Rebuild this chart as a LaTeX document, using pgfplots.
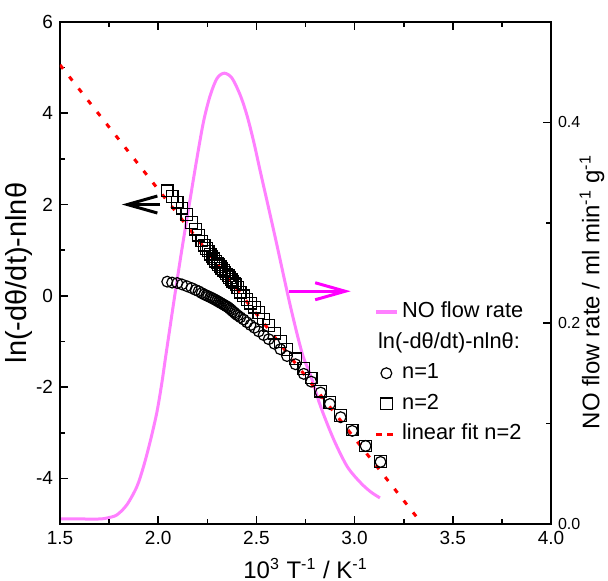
\documentclass[border=0pt]{standalone}
\usepackage{fontspec}
\setmainfont{Liberation Sans}
\usepackage{pgfplots}
\pgfplotsset{compat=1.18}
\usetikzlibrary{arrows.meta}
\definecolor{flowpink}{RGB}{255,128,255}
\definecolor{arrowmag}{RGB}{255,0,255}

\pgfplotsset{
  common/.style={
    scale only axis, width=245.5pt, height=251pt,
    xmin=1.5, xmax=4.0,
    tick align=inside,
    major tick length=4pt, minor tick length=2.5pt,
    axis line style={line width=0.8pt},
    every tick/.style={line width=0.8pt, black},
    /pgf/number format/assume math mode=true,
  },
}

\begin{document}
\begin{tikzpicture}
\useasboundingbox (-30pt,-28.5pt) rectangle (274pt,262pt);

% right axis: NO flow rate
\begin{axis}[
  common,
  ymin=0, ymax=0.5,
  axis x line=none, axis y line*=right,
  ytick={0,0.2,0.4}, minor ytick={0.1,0.3},
  yticklabel style={font=\fontsize{8}{9}\selectfont,
    /pgf/number format/fixed, /pgf/number format/fixed zerofill,
    /pgf/number format/precision=1},
  ylabel={NO flow rate / ml min\textsuperscript{-1} g\textsuperscript{-1}},
  ylabel style={font=\fontsize{12}{14}\selectfont,
    at={(axis description cs:1.0835,0.462)}, anchor=center},
]
\addplot[flowpink, line width=1.5pt, smooth] coordinates {
  (1.500,0.005) (1.600,0.005) (1.700,0.005) (1.740,0.006) (1.789,0.009)
  (1.840,0.019) (1.891,0.037) (1.925,0.057) (1.959,0.082) (1.993,0.111)
  (2.019,0.141) (2.036,0.164) (2.080,0.222) (2.121,0.274) (2.163,0.324)
  (2.197,0.364) (2.231,0.401) (2.265,0.427) (2.300,0.444) (2.337,0.449)
  (2.376,0.444) (2.418,0.427) (2.452,0.407) (2.486,0.381) (2.520,0.351)
  (2.563,0.314) (2.602,0.280) (2.673,0.217) (2.733,0.170) (2.776,0.148)
  (2.827,0.117) (2.894,0.084) (2.963,0.057) (3.031,0.041) (3.082,0.032)
  (3.129,0.026)
};
\end{axis}

% left axis
\begin{axis}[
  common,
  ymin=-5, ymax=6,
  xtick={1.5,2.0,...,4.0}, minor x tick num=1,
  ytick={-4,-2,...,6}, minor y tick num=1,
  ytick pos=left,
  xticklabel style={/pgf/number format/fixed, /pgf/number format/fixed zerofill,
    /pgf/number format/precision=1},
  tick label style={font=\fontsize{9.5}{11}\selectfont},
  xlabel={10\textsuperscript{3} T\textsuperscript{-1} / K\textsuperscript{-1}},
  xlabel style={font=\fontsize{12}{14}\selectfont},
  ylabel={ln(-dθ/dt)-nlnθ},
  ylabel style={font=\fontsize{14.5}{16}\selectfont,
    at={(axis description cs:-0.0835,0.5)}, anchor=center},
  legend style={at={(rel axis cs:0.64,0.448)}, anchor=north west,
    draw=none, fill=none, inner sep=0pt, row sep=2.8pt,
    nodes={inner ysep=1pt, text height=8pt, text depth=2.5pt},
    font=\fontsize{10.9}{12}\selectfont},
  legend cell align=left,
  legend image code/.code={\draw[mark repeat=2,mark phase=2,#1]
    plot coordinates {(0cm,0cm) (0.18cm,0cm) (0.36cm,0cm)};},
]
\addlegendimage{flowpink, line width=1.5pt}
\addlegendentry{NO flow rate}
\addlegendimage{empty legend}
\addlegendentry{\makebox[0pt][l]{\hspace*{-12pt}ln(-dθ/dt)-nlnθ:}}
\addlegendimage{only marks, mark=o, mark size=2.7pt, mark options={draw=black, line width=0.6pt}}
\addlegendentry{n=1}
\addlegendimage{only marks, mark=square, mark size=2.9pt, mark options={draw=black, line width=0.6pt}}
\addlegendentry{n=2}
\addlegendimage{red, line width=1.5pt, dash pattern=on 3pt off 2.5pt}
\addlegendentry{linear fit n=2}

% n=2
\addplot[forget plot, only marks, mark=square, mark size=2.9pt,
  mark options={draw=black, fill=white, line width=0.6pt}] coordinates {
  (2.046,2.30) (2.071,2.18) (2.097,2.05) (2.121,1.92) (2.146,1.78)
  (2.170,1.61) (2.190,1.46) (2.206,1.33) (2.222,1.20) (2.234,1.11)
  (2.245,1.04) (2.255,0.98) (2.265,0.91) (2.274,0.86) (2.283,0.81)
  (2.292,0.76) (2.300,0.72) (2.308,0.68) (2.316,0.64) (2.324,0.60)
  (2.332,0.56) (2.340,0.52) (2.348,0.48) (2.356,0.44) (2.364,0.40)
  (2.372,0.36) (2.380,0.32) (2.388,0.28) (2.396,0.24) (2.405,0.18)
  (2.418,0.08) (2.435,0.00) (2.452,-0.08) (2.470,-0.16) (2.490,-0.25)
  (2.512,-0.37) (2.537,-0.51) (2.563,-0.65) (2.592,-0.82) (2.622,-1.00)
  (2.656,-1.18) (2.699,-1.38) (2.741,-1.59) (2.779,-1.80) (2.827,-2.09)
  (2.874,-2.34) (2.929,-2.62) (2.988,-2.94) (3.056,-3.29) (3.132,-3.63)
};
% n=1
\addplot[forget plot, only marks, mark=o, mark size=2.7pt,
  mark options={draw=black, fill=white, line width=0.6pt}] coordinates {
  (2.046,0.31) (2.071,0.29) (2.097,0.28) (2.121,0.25) (2.146,0.21)
  (2.170,0.17) (2.190,0.13) (2.206,0.10) (2.222,0.06) (2.234,0.03)
  (2.245,0.01) (2.255,-0.01) (2.265,-0.03) (2.274,-0.05) (2.283,-0.07)
  (2.292,-0.09) (2.300,-0.11) (2.308,-0.13) (2.316,-0.15) (2.324,-0.17)
  (2.332,-0.19) (2.340,-0.21) (2.348,-0.23) (2.356,-0.25) (2.364,-0.28)
  (2.372,-0.31) (2.380,-0.34) (2.388,-0.37) (2.396,-0.40) (2.405,-0.43)
  (2.418,-0.47) (2.435,-0.52) (2.452,-0.58) (2.470,-0.64) (2.490,-0.70)
  (2.512,-0.78) (2.537,-0.86) (2.563,-0.95) (2.592,-1.05) (2.622,-1.17)
  (2.656,-1.32) (2.699,-1.50) (2.741,-1.71) (2.779,-1.88) (2.827,-2.12)
  (2.874,-2.37) (2.929,-2.66) (2.988,-2.96) (3.056,-3.29) (3.132,-3.64)
};
% linear fit n=2
\addplot[forget plot, red, line width=1.5pt, dash pattern=on 2.5pt off 5pt]
  coordinates {(1.5,5.06) (3.335,-4.95)};

% arrows pointing to the axes
\draw[-{Straight Barb[length=15pt,width=8.5pt]}, line width=1.5pt, black]
  (axis cs:2.010,2.0) -- (axis cs:1.815,2.0);
\draw[-{Straight Barb[length=15pt,width=8.5pt]}, line width=1.5pt, arrowmag]
  (axis cs:2.665,0.10) -- (axis cs:2.980,0.10);
\end{axis}
\end{tikzpicture}
\end{document}
